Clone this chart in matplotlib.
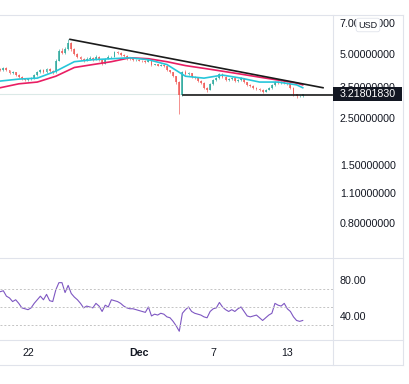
import matplotlib
matplotlib.use("Agg")
import matplotlib.pyplot as plt
from matplotlib.lines import Line2D
from matplotlib.patches import Rectangle
from matplotlib.transforms import IdentityTransform
from matplotlib.ticker import FixedLocator, NullLocator, FuncFormatter

# velas de 6h; eixo x em dias contados a partir de 1 Nov (dia 0)
inicio = 18.75
passo = 0.25
abertura_inicial = 4.22

fechamentos = [
    4.18, 4.27, 4.18, 4.05, 4.09, 3.97, 3.88, 3.80, 3.76, 3.80,
    3.84, 3.97, 4.09, 4.18, 4.09, 4.22, 4.14, 4.09, 4.64, 5.16,
    5.05, 5.27, 5.61, 5.27, 5.00, 4.84, 4.74, 4.64, 4.74, 4.79,
    4.69, 4.84, 4.69, 4.50, 4.74, 4.84, 4.85, 5.10, 5.05, 4.95,
    4.89, 4.74, 4.73, 4.69, 4.70, 4.64, 4.63, 4.59, 4.69, 4.45,
    4.46, 4.40, 4.45, 4.36, 4.18, 4.09, 3.92, 3.68, 3.21, 4.09,
    4.01, 4.05, 3.88, 3.84, 3.72, 3.64, 3.46, 3.39, 3.61, 3.76,
    3.84, 4.01, 3.88, 3.76, 3.80, 3.84, 3.72, 3.76, 3.84, 3.68,
    3.57, 3.53, 3.46, 3.42, 3.39, 3.32, 3.39, 3.46, 3.57, 3.68,
    3.64, 3.68, 3.64, 3.61, 3.46, 3.22, 3.15, 3.17, 3.218,
]
maximas = [
    4.27, 4.33, 4.31, 4.21, 4.14, 4.12, 4.00, 3.91, 3.84, 3.84,
    3.88, 4.02, 4.15, 4.25, 4.22, 4.29, 4.27, 4.19, 4.72, 5.26,
    5.30, 5.40, 5.85, 5.68, 5.33, 5.07, 4.90, 4.80, 4.81, 4.86,
    4.84, 4.91, 4.89, 4.72, 4.80, 4.92, 4.90, 5.18, 5.16, 5.10,
    4.99, 4.93, 4.79, 4.77, 4.74, 4.72, 4.69, 4.67, 4.74, 4.71,
    4.50, 4.48, 4.49, 4.48, 4.39, 4.21, 4.11, 3.94, 3.71, 4.16,
    4.18, 4.10, 4.07, 3.92, 3.87, 3.75, 3.67, 3.50, 3.65, 3.80,
    3.88, 4.06, 4.04, 3.91, 3.84, 3.88, 3.86, 3.80, 3.89, 3.86,
    3.70, 3.61, 3.56, 3.49, 3.45, 3.42, 3.43, 3.50, 3.61, 3.73,
    3.71, 3.72, 3.70, 3.67, 3.63, 3.49, 3.25, 3.21, 3.25,
]
minimas = [
    4.13, 4.15, 4.14, 4.01, 4.01, 3.93, 3.84, 3.76, 3.72, 3.73,
    3.77, 3.81, 3.94, 4.06, 4.05, 4.06, 4.09, 4.03, 4.07, 4.60,
    4.98, 5.01, 5.20, 5.18, 4.93, 4.77, 4.68, 4.58, 4.61, 4.70,
    4.64, 4.66, 4.64, 4.44, 4.47, 4.71, 4.79, 4.81, 5.00, 4.90,
    4.84, 4.69, 4.68, 4.65, 4.64, 4.60, 4.59, 4.55, 4.56, 4.40,
    4.41, 4.36, 4.36, 4.31, 4.14, 4.04, 3.87, 3.62, 2.60, 3.17,
    3.97, 3.97, 3.84, 3.79, 3.68, 3.59, 3.42, 3.32, 3.37, 3.58,
    3.72, 3.81, 3.84, 3.72, 3.73, 3.77, 3.69, 3.69, 3.73, 3.64,
    3.53, 3.49, 3.42, 3.38, 3.35, 3.27, 3.29, 3.36, 3.43, 3.54,
    3.60, 3.61, 3.60, 3.57, 3.42, 3.18, 3.11, 3.12, 3.14,
]
rsi = [
    67, 68, 62, 60, 56, 58, 54, 49, 48, 47,
    49, 54, 58, 62, 58, 64, 57, 56, 69, 77,
    77, 66, 74, 65, 61, 58, 54, 49, 51, 50,
    49, 54, 51, 45, 52, 50, 58, 57, 56, 54,
    51, 49, 48, 48, 47, 46, 45, 44, 50, 40,
    42, 41, 43, 42, 39, 38, 34, 29, 23, 43,
    47, 50, 45, 43, 42, 41, 39, 38, 45, 48,
    49, 55, 50, 47, 45, 47, 45, 48, 50, 45,
    40, 39, 40, 41, 38, 35, 38, 41, 43, 54,
    52, 51, 54, 48, 45, 39, 35, 34, 35,
]

ema_idx = [0, 6, 12, 18, 24, 30, 36, 42, 48, 54, 60, 66, 72, 78, 84, 90, 96, 98]
ema_rapida = [3.72, 3.80, 3.84, 4.14, 4.59, 4.69, 4.74, 4.79, 4.69, 4.45,
              3.92, 3.84, 3.97, 3.84, 3.68, 3.68, 3.57, 3.46]
ema_lenta = [3.46, 3.61, 3.68, 3.92, 4.31, 4.45, 4.59, 4.79, 4.74, 4.59,
             4.40, 4.27, 4.14, 4.01, 3.88, 3.76, 3.64, 3.57]

tendencia_x = [24.40, 44.89]
tendencia_y = [5.85, 3.46]
suporte_inicio = 33.55
suporte = 3.21
ultimo_preco = 3.21801830

ticks_preco = [0.8, 1.1, 1.5, 2.5, 3.5, 5.0, 7.0]
ticks_rsi = [40, 80]
niveis_rsi = [30, 50, 70]
ticks_tempo = [21, 30, 36, 42]
rotulos_tempo = ['22', 'Dec', '7', '13']

W, H = 409, 384
VERDE = '#26a69a'
VERMELHO = '#ef5350'
TEXTO = '#131722'
BORDA = '#e0e3eb'
FONTE = 'Liberation Sans'


def fx(px):
    return px / W


def fy(py):
    return 1 - py / H


def gerar_grafico():
    plt.rcParams['font.family'] = FONTE
    fig = plt.figure(figsize=(W / 100, H / 100), dpi=100)
    fig.patch.set_facecolor('white')

    ax = fig.add_axes([0, fy(258), fx(333), (258 - 15) / H])
    ax_rsi = fig.add_axes([0, fy(340), fx(333), (340 - 258) / H])

    dias = [inicio + passo * i for i in range(len(fechamentos))]
    aberturas = [abertura_inicial] + fechamentos[:-1]
    cores = [VERDE if c >= o else VERMELHO for o, c in zip(aberturas, fechamentos)]

    ax.vlines(dias, minimas, maximas, colors=cores, linewidth=0.6, alpha=0.75, zorder=2)
    ax.bar(dias, [abs(c - o) for o, c in zip(aberturas, fechamentos)],
           bottom=[min(o, c) for o, c in zip(aberturas, fechamentos)],
           width=0.15, color=cores, linewidth=0, alpha=0.75, zorder=2)

    ema_x = [inicio + passo * i for i in ema_idx]
    ax.plot(ema_x, ema_lenta, color='#e91e63', linewidth=1.2, zorder=3)
    ax.plot(ema_x, ema_rapida, color='#26c6da', linewidth=1.2, zorder=3)

    ax.axhline(ultimo_preco, color='#dbe9e7', linewidth=0.8, zorder=1)
    ax.plot(tendencia_x, tendencia_y, color='#1b1b1b', linewidth=1.2, zorder=4)
    ax.plot([suporte_inicio, 50], [suporte, suporte], color='#1b1b1b', linewidth=1.2, zorder=4)

    ax.set_yscale('log')
    ax.set_ylim(0.545, 7.62)
    ax.set_xlim(18.73, 45.70)
    ax.yaxis.tick_right()
    ax.yaxis.set_major_locator(FixedLocator(ticks_preco))
    ax.yaxis.set_minor_locator(NullLocator())
    ax.yaxis.set_major_formatter(FuncFormatter(lambda v, p: f'{v:.8f}'))
    ax.tick_params(axis='y', length=0, pad=5, labelsize=7.7, labelcolor=TEXTO)
    ax.set_xticks([])
    for s in ax.spines.values():
        s.set_visible(False)

    # rsi
    ax_rsi.plot(dias, rsi, color='#7e57c2', linewidth=0.8)
    for n in niveis_rsi:
        ax_rsi.axhline(n, color='#c4c4c4', linewidth=0.7, linestyle=(0, (2, 2)))
    ax_rsi.set_ylim(13.3, 104.4)
    ax_rsi.set_xlim(18.73, 45.70)
    ax_rsi.yaxis.tick_right()
    ax_rsi.set_yticks(ticks_rsi)
    ax_rsi.set_yticklabels([f'{v:.2f}' for v in ticks_rsi])
    ax_rsi.set_xticks(ticks_tempo)
    ax_rsi.set_xticklabels(rotulos_tempo)
    ax_rsi.get_xticklabels()[1].set_fontweight('bold')
    ax_rsi.tick_params(length=0, labelsize=7.7, labelcolor=TEXTO)
    ax_rsi.tick_params(axis='y', pad=5)
    ax_rsi.tick_params(axis='x', pad=6)
    for s in ax_rsi.spines.values():
        s.set_visible(False)

    # bordas dos paineis
    for py in [15, 258, 340, 365]:
        fig.add_artist(Line2D([0, fx(403)], [fy(py), fy(py)], color=BORDA, linewidth=0.8))
    for px in [333, 403]:
        fig.add_artist(Line2D([fx(px), fx(px)], [fy(15), fy(365)], color=BORDA, linewidth=0.8))

    # rotulo do ultimo preco
    fig.canvas.draw()
    y_disp = ax.transData.transform((20, ultimo_preco))[1]
    fig.add_artist(Rectangle((333, y_disp - 7), 69, 14, transform=IdentityTransform(),
                             facecolor=TEXTO, edgecolor='none', zorder=10))
    fig.text(fx(340), y_disp / H, f'{ultimo_preco:.8f}', color='white', fontsize=7.7,
             ha='left', va='center', zorder=11)

    fig.text(fx(368), fy(25), 'USD', color=TEXTO, fontsize=6.5, ha='center', va='center',
             zorder=11, bbox=dict(boxstyle='round,pad=0.25', fc='white', ec=BORDA, lw=0.6))

    fig.savefig('out.png', dpi=100)


if __name__ == "__main__":
    gerar_grafico()
